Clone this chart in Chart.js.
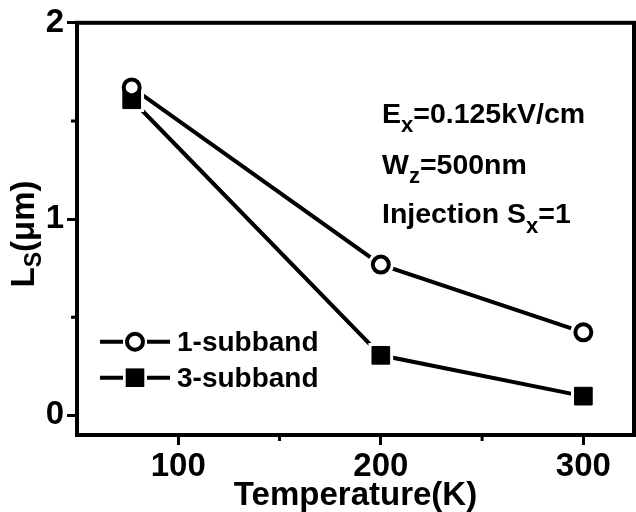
<!DOCTYPE html>
<html>
<head>
<meta charset="utf-8">
<script src="https://cdn.jsdelivr.net/npm/chart.js@4.4.1/dist/chart.umd.min.js"></script>
<style>
  html, body { margin: 0; padding: 0; background: #fff; }
  #wrap { width: 636px; height: 512px; }
</style>
</head>
<body>
<div id="wrap"><canvas id="lsChart" width="636" height="512"></canvas></div>
<script>
// spin length vs temperature
const temperatures = [77, 200, 300];
const oneSubband = [1.671, 0.768, 0.423];
const threeSubband = [1.608, 0.306, 0.098];

const xTicks = [100, 200, 300];
const xMinorTicks = [150, 250];
const yTicks = [0, 1, 2];
const yMinorTicks = [0.5, 1.5];

const FONT = '"Liberation Sans", Arial, Helvetica, sans-serif';

function toPoints(values) {
  return temperatures.map((t, i) => ({ x: t, y: values[i] }));
}

// draw a run of text pieces, each {t, sub}, starting at (x, y) on the baseline
function drawRich(ctx, parts, x, y, size, subSize, subShift) {
  ctx.textBaseline = 'alphabetic';
  ctx.textAlign = 'left';
  parts.forEach(p => {
    ctx.font = 'bold ' + (p.sub ? subSize : size) + 'px ' + FONT;
    ctx.fillText(p.t, x, p.sub ? y + subShift : y);
    x += ctx.measureText(p.t).width;
  });
  return x;
}

function richWidth(ctx, parts, size, subSize) {
  let w = 0;
  parts.forEach(p => {
    ctx.font = 'bold ' + (p.sub ? subSize : size) + 'px ' + FONT;
    w += ctx.measureText(p.t).width;
  });
  return w;
}

const decorations = {
  id: 'decorations',
  afterDraw(chart) {
    const ctx = chart.ctx;
    const area = chart.chartArea;
    const xs = chart.scales.x;
    const ys = chart.scales.y;
    ctx.save();
    ctx.fillStyle = '#000';
    ctx.strokeStyle = '#000';

    // frame
    ctx.lineWidth = 4;
    ctx.strokeRect(area.left, area.top, area.right - area.left, area.bottom - area.top);

    // minor ticks
    ctx.lineWidth = 3;
    ctx.beginPath();
    xMinorTicks.forEach(v => {
      const px = xs.getPixelForValue(v);
      ctx.moveTo(px, area.bottom);
      ctx.lineTo(px, area.bottom + 6);
    });
    yMinorTicks.forEach(v => {
      const py = ys.getPixelForValue(v);
      ctx.moveTo(area.left, py);
      ctx.lineTo(area.left - 6, py);
    });
    ctx.stroke();

    // y axis title, rotated, with subscript
    const yTitle = [{ t: 'L' }, { t: 'S', sub: true }, { t: '(\u03bcm)' }];
    const w = richWidth(ctx, yTitle, 33, 23);
    ctx.save();
    ctx.translate(34, 234 + w / 2);
    ctx.rotate(-Math.PI / 2);
    drawRich(ctx, yTitle, 0, 0, 33, 23, 7);
    ctx.restore();

    // conditions
    const tx = 382;
    drawRich(ctx, [{ t: 'E' }, { t: 'x', sub: true }, { t: '=0.125kV/cm' }], tx, 123, 28.5, 22, 9);
    drawRich(ctx, [{ t: 'W' }, { t: 'z', sub: true }, { t: '=500nm' }], tx, 174, 28.5, 22, 9);
    drawRich(ctx, [{ t: 'Injection S' }, { t: 'x', sub: true }, { t: '=1' }], tx, 223, 28.5, 22, 10);

    // legend
    const rows = [
      { label: '1-subband', style: 'circle', y: 341.7 },
      { label: '3-subband', style: 'rect', y: 377.7 }
    ];
    rows.forEach(r => {
      ctx.lineWidth = 4;
      ctx.beginPath();
      ctx.moveTo(100, r.y);
      ctx.lineTo(123, r.y);
      ctx.moveTo(147, r.y);
      ctx.lineTo(170, r.y);
      ctx.stroke();
      if (r.style === 'circle') {
        ctx.beginPath();
        ctx.arc(135, r.y, 8, 0, Math.PI * 2);
        ctx.fillStyle = '#fff';
        ctx.fill();
        ctx.lineWidth = 4;
        ctx.stroke();
        ctx.fillStyle = '#000';
      } else {
        ctx.fillRect(135 - 9.3, r.y - 9.3, 18.6, 18.6);
      }
      ctx.font = 'bold 28px ' + FONT;
      ctx.textAlign = 'left';
      ctx.textBaseline = 'alphabetic';
      ctx.fillText(r.label, 177, r.y + 9.5);
    });
    ctx.restore();
  }
};

const tickFont = { family: FONT, size: 33, weight: 'bold' };

new Chart(document.getElementById('lsChart'), {
  type: 'line',
  data: {
    datasets: [
      {
        label: '1-subband line',
        data: toPoints(oneSubband),
        borderColor: '#000', borderWidth: 4, pointRadius: 0, order: 5
      },
      {
        label: '3-subband line',
        data: toPoints(threeSubband),
        borderColor: '#000', borderWidth: 4, pointRadius: 0, order: 5
      },
      {
        label: '3-subband gap',
        data: toPoints(threeSubband), showLine: false,
        pointStyle: 'rect', pointRadius: 17.5, pointBorderWidth: 0,
        pointBackgroundColor: '#fff', order: 4
      },
      {
        label: '1-subband gap',
        data: toPoints(oneSubband), showLine: false,
        pointStyle: 'circle', pointRadius: 13, pointBorderWidth: 0,
        pointBackgroundColor: '#fff', order: 3
      },
      {
        label: '3-subband',
        data: toPoints(threeSubband), showLine: false,
        pointStyle: 'rect', pointRadius: 12.5, pointBorderWidth: 1,
        pointBackgroundColor: '#000', pointBorderColor: '#000', order: 2
      },
      {
        label: '1-subband',
        data: toPoints(oneSubband), showLine: false,
        pointStyle: 'circle', pointRadius: 8, pointBorderWidth: 4,
        pointBackgroundColor: '#fff', pointBorderColor: '#000', order: 1
      }
    ]
  },
  options: {
    responsive: false,
    animation: false,
    events: [],
    layout: { autoPadding: false, padding: { top: 21, right: 2, bottom: 0, left: 0 } },
    plugins: { legend: { display: false }, tooltip: { enabled: false } },
    scales: {
      x: {
        type: 'linear', min: 50, max: 325,
        afterBuildTicks: s => { s.ticks = xTicks.map(v => ({ value: v })); },
        afterFit: s => { s.height = 77; },
        border: { display: false },
        grid: { drawOnChartArea: false, drawTicks: true, tickLength: 10, tickWidth: 3, tickColor: '#000' },
        ticks: { color: '#000', font: tickFont, padding: 2, maxRotation: 0, autoSkip: false },
        title: {
          display: true, text: 'Temperature(K)', color: '#000',
          font: { family: FONT, size: 33, weight: 'bold', lineHeight: 1 },
          padding: { top: 0, bottom: 0 }
        }
      },
      y: {
        type: 'linear', min: -0.1, max: 2,
        afterBuildTicks: s => { s.ticks = yTicks.map(v => ({ value: v })); },
        afterFit: s => { s.width = 77; },
        border: { display: false },
        grid: { drawOnChartArea: false, drawTicks: true, tickLength: 10, tickWidth: 3, tickColor: '#000' },
        ticks: { color: '#000', font: tickFont, padding: 3 }
      }
    }
  },
  plugins: [decorations]
});
</script>
</body>
</html>
